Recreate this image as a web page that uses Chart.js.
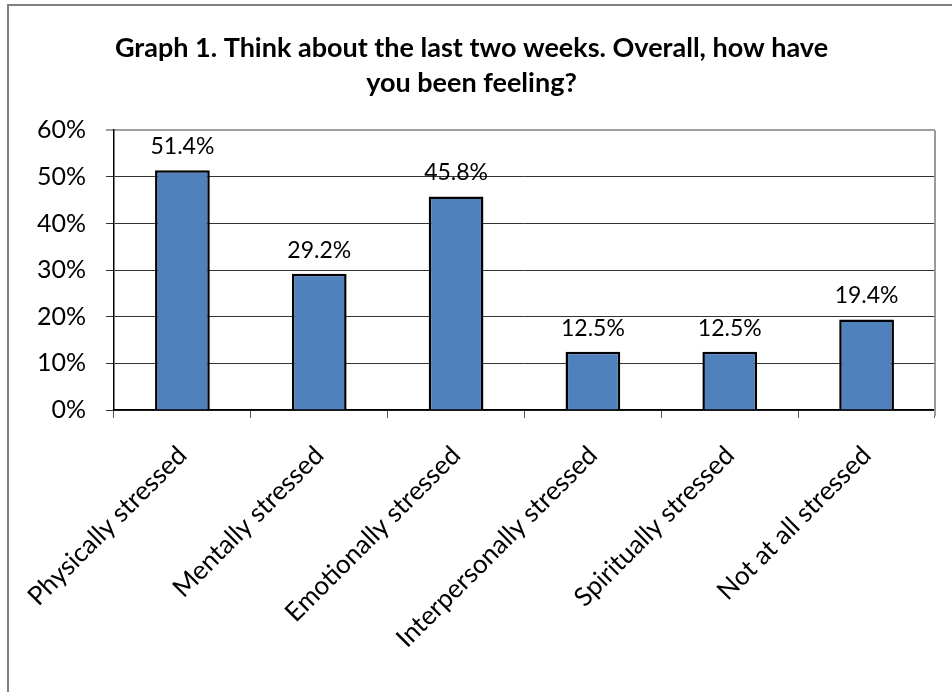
<!DOCTYPE html>
<html>
<head>
<meta charset="utf-8">
<script src="https://cdn.jsdelivr.net/npm/chart.js@4"></script>
<style>
    body { margin: 0; overflow: hidden; background: #fff; }
    #wrap { position: relative; width: 952px; height: 692px; }
    #frame { position: absolute; left: 7px; top: 4px; width: 960px; height: 700px;
             border-left: 2px solid #808080; border-top: 2px solid #808080; }
</style>
</head>
<body>
<div id="wrap">
    <div id="frame"></div>
    <canvas id="feelingChart"></canvas>
</div>
<script>
const categorias = ['Physically stressed', 'Mentally stressed', 'Emotionally stressed',
    'Interpersonally stressed', 'Spiritually stressed', 'Not at all stressed'];
const percentuais = [51.4, 29.2, 45.8, 12.5, 12.5, 19.4];
const tituloLinhas = ['Graph 1. Think about the last two weeks. Overall, how have', 'you been feeling?'];
const fonte = 'Lato';

// rótulos de valor acima das barras + borda cinza da área do gráfico
const rotulosPlugin = {
    id: 'rotulos',
    afterDatasetsDraw(chart) {
        const ctx = chart.ctx;
        const area = chart.chartArea;
        ctx.save();
        ctx.strokeStyle = '#9a9a9a';
        ctx.lineWidth = 2;
        ctx.beginPath();
        ctx.moveTo(area.right, area.top);
        ctx.lineTo(area.right, area.bottom + 6);
        ctx.stroke();

        ctx.fillStyle = '#000';
        ctx.font = '23px ' + fonte;
        ctx.textAlign = 'center';
        ctx.textBaseline = 'bottom';
        chart.getDatasetMeta(0).data.forEach((bar, i) => {
            ctx.fillText(percentuais[i].toFixed(1) + '%', bar.x, bar.y - 12);
        });
        ctx.restore();
    }
};

document.addEventListener('DOMContentLoaded', function() {
    const ctx = document.getElementById('feelingChart');
    new Chart(ctx.getContext('2d'), {
        type: 'bar',
        data: {
            labels: categorias,
            datasets: [{
                data: percentuais,
                backgroundColor: '#4F81BD',
                borderColor: '#000',
                borderWidth: 2.5,
                categoryPercentage: 1,
                barPercentage: 0.4
            }]
        },
        options: {
            responsive: true,
            maintainAspectRatio: false,
            animation: false,
            layout: { padding: { left: 8, right: 17, top: 0, bottom: 0 } },
            plugins: {
                legend: { display: false },
                tooltip: { enabled: false },
                title: {
                    display: true,
                    text: tituloLinhas,
                    color: '#000',
                    font: { family: fonte, size: 27, weight: 'bold', lineHeight: 1.3 },
                    padding: { top: 31, bottom: 29 }
                }
            },
            scales: {
                x: {
                    grid: { drawOnChartArea: false, drawTicks: true, tickLength: 8, color: '#555' },
                    border: { color: '#000', width: 1.5 },
                    ticks: {
                        color: '#000',
                        font: { family: fonte, size: 26 },
                        minRotation: 45,
                        maxRotation: 45,
                        padding: 22
                    },
                    afterFit(scale) { scale.height = 282; }
                },
                y: {
                    min: 0,
                    max: 60,
                    grid: {
                        color: (c) => c.tick && c.tick.value === 60 ? '#a0a0a0' : '#333',
                        lineWidth: (c) => c.tick && c.tick.value === 60 ? 2 : 1,
                        tickLength: 8
                    },
                    border: { color: '#000', width: 1.5 },
                    ticks: {
                        stepSize: 10,
                        color: '#000',
                        font: { family: fonte, size: 25 },
                        padding: 20,
                        callback: (v) => v + '%'
                    },
                    afterFit(scale) { scale.width = 106; }
                }
            }
        },
        plugins: [rotulosPlugin]
    });
});
</script>
</body>
</html>
